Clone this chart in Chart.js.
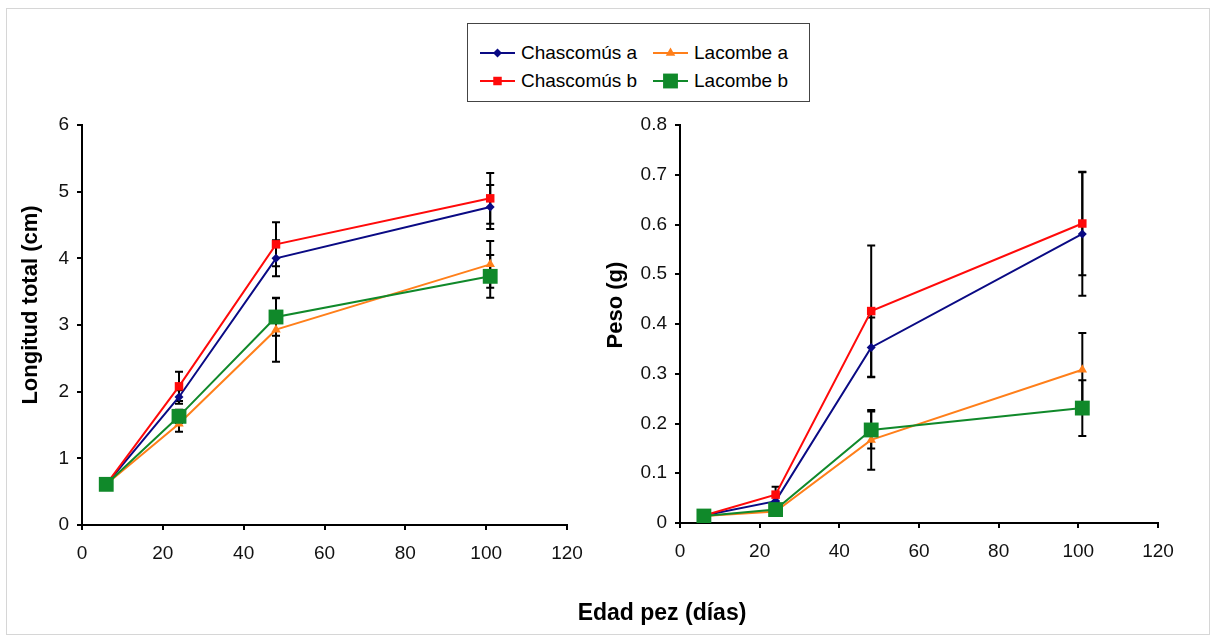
<!DOCTYPE html>
<html>
<head>
<meta charset="utf-8">
<script src="https://cdn.jsdelivr.net/npm/chart.js@4.4.0/dist/chart.umd.min.js"></script>
<style>
  body { margin: 0; background: #fff; font-family: "Liberation Sans", Arial, sans-serif; color: #000; }
  #page { position: relative; width: 1217px; height: 637px; overflow: hidden; }
  #frame { position: absolute; left: 6px; top: 8px; width: 1204px; height: 627px; border: 1.5px solid #d6d6d6; box-sizing: border-box; }
  .chart-box { position: absolute; top: 0; height: 637px; }
  .ytitle { position: absolute; width: 300px; height: 24px; line-height: 24px; text-align: center;
            font-weight: bold; font-size: 22px; transform: rotate(-90deg); white-space: nowrap; }
  #xtitle { position: absolute; left: 462px; top: 600px; width: 400px; height: 24px; line-height: 24px;
            text-align: center; font-weight: bold; font-size: 23px; white-space: nowrap; }
  #legend { position: absolute; left: 467px; top: 23px; width: 343px; height: 79px; border: 1.5px solid #444;
            box-sizing: border-box; background: #fff; }
  .item { position: absolute; height: 24px; line-height: 24px; font-size: 19px; white-space: nowrap; }
  .item canvas { position: absolute; left: 0; top: 2px; }
  .item span { position: absolute; top: 0; }
</style>
</head>
<body>
<div id="page">
  <div id="frame"></div>
  <div class="chart-box" style="left:0;width:610px"><canvas id="lengthChart" width="610" height="637"></canvas></div>
  <div class="chart-box" style="left:610px;width:607px"><canvas id="weightChart" width="607" height="637"></canvas></div>
  <div class="ytitle" style="left:-120px;top:293px">Longitud total (cm)</div>
  <div class="ytitle" style="left:465px;top:293px">Peso (g)</div>
  <div id="xtitle">Edad pez (días)</div>
  <div id="legend"></div>
</div>
<script>
// fish age (days)
const ageDays = [6, 24, 48, 101];
const ageTicks = [0, 20, 40, 60, 80, 100, 120];

// total length (cm)
const lenChascA = [0.61, 1.92, 4.0, 4.77];
const lenChascB = [0.61, 2.08, 4.21, 4.9];
const lenLacA = [0.61, 1.52, 2.93, 3.91];
const lenLacB = [0.61, 1.63, 3.12, 3.73];
const lenChascAErr = [0, 0.1, 0.27, 0.33];
const lenChascBErr = [0, 0.22, 0.33, 0.38];
const lenLacAErr = [0, 0.12, 0.48, 0.35];
const lenLacBErr = [0, 0.1, 0.28, 0.32];
const lengthTicks = ['0', '1', '2', '3', '4', '5', '6'];

// weight (g)
const wChascA = [0.015, 0.044, 0.353, 0.581];
const wChascB = [0.015, 0.057, 0.426, 0.602];
const wLacA = [0.014, 0.023, 0.167, 0.308];
const wLacB = [0.014, 0.027, 0.187, 0.231];
const wChascAErr = [0, 0.01, 0.06, 0.124];
const wChascBErr = [0, 0.016, 0.132, 0.104];
const wLacAErr = [0, 0.005, 0.06, 0.074];
const wLacBErr = [0, 0.005, 0.037, 0.056];
const weightTicks = ['0', '0.1', '0.2', '0.3', '0.4', '0.5', '0.6', '0.7', '0.8'];

const seriesNames = ['Chascomús a', 'Chascomús b', 'Lacombe a', 'Lacombe b'];
const seriesColors = ['#0a0a84', '#ff0a0a', '#ff7f1a', '#10892a'];
const seriesShapes = ['rectRot', 'rect', 'triangle', 'rect'];
const seriesRadius = [4.5, 6, 5.5, 10.5];

const FONT = 'Liberation Sans, Arial, sans-serif';

// draws black error bars under the markers
const errorBars = {
  id: 'errorBars',
  beforeDatasetsDraw(chart) {
    const ctx = chart.ctx;
    const yScale = chart.scales.y;
    ctx.save();
    ctx.strokeStyle = '#000';
    ctx.lineWidth = 2;
    chart.data.datasets.forEach((ds, i) => {
      const meta = chart.getDatasetMeta(i);
      meta.data.forEach((pt, j) => {
        const err = ds.errors[j];
        if (!err) return;
        const top = yScale.getPixelForValue(ds.data[j].y + err);
        const bottom = yScale.getPixelForValue(ds.data[j].y - err);
        ctx.beginPath();
        ctx.moveTo(pt.x, top);
        ctx.lineTo(pt.x, bottom);
        ctx.moveTo(pt.x - 4, top);
        ctx.lineTo(pt.x + 4, top);
        ctx.moveTo(pt.x - 4, bottom);
        ctx.lineTo(pt.x + 4, bottom);
        ctx.stroke();
      });
    });
    ctx.restore();
  }
};

function makeDatasets(values, errors) {
  const list = values.map((vals, s) => ({
    label: seriesNames[s],
    data: ageDays.map((x, i) => ({ x: x, y: vals[i] })),
    errors: errors[s],
    borderColor: seriesColors[s],
    backgroundColor: seriesColors[s],
    borderWidth: 2,
    tension: 0,
    pointStyle: seriesShapes[s],
    pointRadius: seriesRadius[s],
    pointBorderWidth: 0,
    pointBackgroundColor: seriesColors[s],
  }));
  // first dataset is drawn on top: keep Lacombe b topmost like the original
  return list.reverse();
}

function makeChart(id, datasets, yMax, yStep, yLabels, yWidth, padRight, xHeight) {
  return new Chart(document.getElementById(id), {
    type: 'line',
    data: { datasets: datasets },
    plugins: [errorBars],
    options: {
      responsive: false,
      animation: false,
      devicePixelRatio: 1,
      layout: { padding: { top: 125, right: padRight, left: 0, bottom: 0 } },
      plugins: { legend: { display: false }, tooltip: { enabled: false } },
      scales: {
        x: {
          type: 'linear',
          min: 0,
          max: 120,
          afterBuildTicks: (scale) => { scale.ticks = ageTicks.map(v => ({ value: v })); },
          afterFit: (scale) => { scale.height = xHeight; },
          ticks: { color: '#111', font: { family: FONT, size: 19 }, padding: 12, maxRotation: 0,
                   callback: (v) => String(v) },
          grid: { drawOnChartArea: false, drawTicks: true, tickLength: 5, color: '#000', lineWidth: 2 },
          border: { display: true, color: '#000', width: 2 }
        },
        y: {
          type: 'linear',
          min: 0,
          max: yMax,
          ticks: { stepSize: yStep, color: '#111', font: { family: FONT, size: 19 }, padding: 8,
                   callback: (v, i) => yLabels[i] },
          afterFit: (scale) => { scale.width = yWidth; },
          grid: { drawOnChartArea: false, drawTicks: true, tickLength: 5, color: '#000', lineWidth: 2 },
          border: { display: true, color: '#000', width: 2 }
        }
      }
    }
  });
}

makeChart('lengthChart',
  makeDatasets([lenChascA, lenChascB, lenLacA, lenLacB],
               [lenChascAErr, lenChascBErr, lenLacAErr, lenLacBErr]),
  6, 1, lengthTicks, 82, 43, 112);

makeChart('weightChart',
  makeDatasets([wChascA, wChascB, wLacA, wLacB],
               [wChascAErr, wChascBErr, wLacAErr, wLacBErr]),
  0.8, 0.1, weightTicks, 70, 59, 114);

// legend: 2 columns, Chascomús on the left, Lacombe on the right
const legend = document.getElementById('legend');
const legendPos = [[12, 17], [12, 45], [185, 17], [185, 45]];
seriesNames.forEach((name, s) => {
  const item = document.createElement('div');
  item.className = 'item';
  item.style.left = legendPos[s][0] + 'px';
  item.style.top = legendPos[s][1] + 'px';
  const icon = document.createElement('canvas');
  icon.width = 35;
  icon.height = 20;
  const ctx = icon.getContext('2d');
  ctx.strokeStyle = seriesColors[s];
  ctx.lineWidth = 2;
  ctx.beginPath();
  ctx.moveTo(0, 10);
  ctx.lineTo(35, 10);
  ctx.stroke();
  ctx.fillStyle = seriesColors[s];
  if (Chart.helpers && Chart.helpers.drawPoint) {
    Chart.helpers.drawPoint(ctx, { pointStyle: seriesShapes[s], radius: seriesRadius[s], borderWidth: 0, rotation: 0 }, 17.5, 10);
  } else {
    const r = seriesRadius[s] * 0.7;
    ctx.fillRect(17.5 - r, 10 - r, 2 * r, 2 * r);
  }
  const label = document.createElement('span');
  label.style.left = '41px';
  label.textContent = name;
  item.appendChild(icon);
  item.appendChild(label);
  legend.appendChild(item);
});
</script>
</body>
</html>
